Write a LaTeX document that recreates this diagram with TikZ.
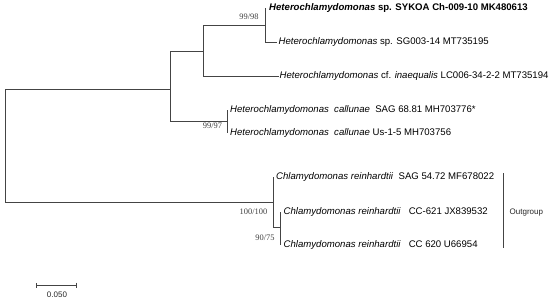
\documentclass[tikz,border=0pt]{standalone}
\usepackage{fontspec}
\usetikzlibrary{arrows.meta}
\setmainfont{Liberation Sans}
\newfontfamily\bsfont{Liberation Serif}
\definecolor{treeline}{HTML}{444444}
\tikzset{
  branch/.style={draw=treeline, line width=1pt},
  leaf/.style={anchor=west, inner xsep=1.5pt, inner ysep=0pt, font=\fontsize{9.6}{11}\selectfont, text=black},
  boot/.style={inner sep=0pt, font=\bsfont\fontsize{8.4}{9}\selectfont, text=black!75},
  small/.style={inner sep=0pt, font=\fontsize{8}{9}\selectfont, text=black!85}
}
\begin{document}
\begin{tikzpicture}[x=1pt,y=-1pt]
\useasboundingbox (0,0) rectangle (550,301);
% internal nodes
\coordinate (r)  at (5.5,145.5);
\coordinate (n1) at (170,89);
\coordinate (n2) at (203,51);
\coordinate (n3) at (265,25);
\coordinate (n4) at (227,121);
\coordinate (o1) at (273,202);
\coordinate (o2) at (280,227);
% leaves
\node[leaf, inner xsep=4pt] (L1) at (265,8) {\textbf{\textit{Heterochlamydomonas}} \textbf{sp. SYKOA Ch-009-10 MK480613}};
\node[leaf] (L2) at (277,42) {\textit{Heterochlamydomonas} sp. SG003-14 MT735195};
\node[leaf, inner xsep=0.5pt] (L3) at (279,76) {\textit{Heterochlamydomonas} cf. \textit{inaequalis} LC006-34-2-2 MT735194};
\node[leaf, inner xsep=3pt] (L4) at (227,110) {\textit{Heterochlamydomonas\ \ callunae}\ \ SAG 68.81 MH703776*};
\node[leaf, inner xsep=3pt] (L5) at (227,133) {\textit{Heterochlamydomonas\ \ callunae} Us-1-5 MH703756};
\node[leaf, inner xsep=3pt] (L6) at (273,177) {\textit{Chlamydomonas reinhardtii}\ \ SAG 54.72 MF678022};
\node[leaf, inner xsep=3.5pt] (L7) at (280,212) {\textit{Chlamydomonas reinhardtii}\ \ \ CC-621 JX839532};
\node[leaf, inner xsep=3.5pt] (L8) at (280,245) {\textit{Chlamydomonas reinhardtii}\ \ \ CC 620 U66954};
% branches
\draw[branch] (r) |- (n1);
\draw[branch] (r) |- (o1);
\draw[branch] (n1) |- (n2);
\draw[branch] (n1) |- (n4);
\draw[branch] (n2) |- (n3);
\draw[branch] (n2) |- (L3.west);
\draw[branch] (n3) |- (L1.west);
\draw[branch] (n3) |- (L2.west);
\draw[branch] (n4) |- (L4.west);
\draw[branch] (n4) |- (L5.west);
\draw[branch] (o1) |- (L6.west);
\draw[branch] (o1) |- (o2);
\draw[branch] (o2) |- (L7.west);
\draw[branch] (o2) |- (L8.west);
% bootstrap values
\node[boot] (b1) at (249,17) {99/98};
\node[boot] (b2) at (212.5,126) {99/97};
\node[boot] (b3) at (253.5,212) {100/100};
\node[boot] (b4) at (265,238) {90/75};
% outgroup bracket
\coordinate (og1) at (503,173);
\coordinate (og2) at (503,248);
\draw[branch] (og1) -- (og2);
\node[small, anchor=west] (og) at (509.5,213) {Outgroup};
% scale bar
\coordinate (sb1) at (36,285);
\coordinate (sb2) at (77,285);
\draw[branch, {Bar[width=5pt]}-{Bar[width=5pt]}] (sb1) -- (sb2);
\node[small] (sbl) at (57,295) {0.050};
\end{tikzpicture}
\end{document}
